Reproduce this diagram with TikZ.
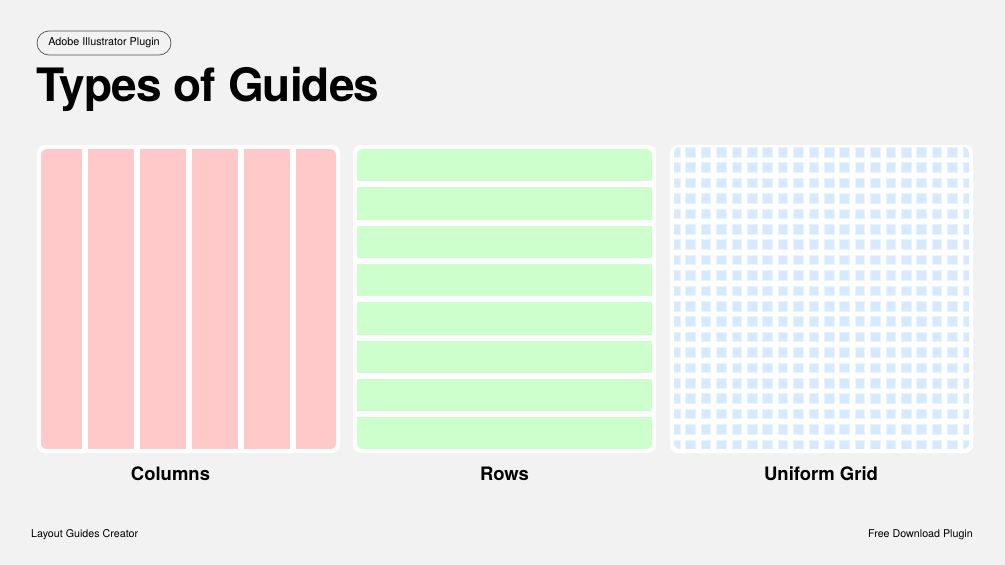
\documentclass[tikz,border=0pt]{standalone}
\usepackage{fontspec}
\setmainfont{TeX Gyre Heros}
\usepackage{xcolor}
\definecolor{bgcol}{HTML}{F2F2F2}
\definecolor{colpink}{HTML}{FFC9C9}
\definecolor{rowgreen}{HTML}{CCFFCC}
\definecolor{gridblue}{HTML}{D6EAFF}

\begin{document}
\begin{tikzpicture}[x=1pt, y=-1pt]
	%background and page size
	\fill[color=bgcol] (0,0) rectangle (1005,565);
	\useasboundingbox (0,0) rectangle (1005,565);
	%
	% Heading
	\node[draw=darkgray!90, line width=0.7pt, rounded corners=12pt, minimum width=134pt, minimum height=24pt, inner sep=0pt, font=\fontsize{10.8}{12}\selectfont] (tag) at (104,43) {Adobe Illustrator Plugin};
	\node[anchor=base west, inner sep=0pt, font=\fontsize{46}{46}\selectfont\bfseries\addfontfeature{LetterSpace=-2}] (title) at (36,101) {Types of Guides};
	%
	%white panels
	\fill[color=white, rounded corners=8pt] (37,145) rectangle (340,453); % columns
	\fill[color=white, rounded corners=8pt] (353,145) rectangle (656,453); % rows
	\fill[color=white, rounded corners=8pt] (670,145) rectangle (973,453); % grid
	%
	% COLUMNS
	\begin{scope}
	\clip[rounded corners=6pt] (41,149) rectangle (336,449);
	\foreach \i in {0,...,5}
		\fill[color=colpink] ({35.5+52*\i},149) rectangle ({81.5+52*\i},449);
	\end{scope}
	%
	% ROWS
	\begin{scope}
	\clip[rounded corners=6pt] (357,149) rectangle (652,449);
	\foreach \j in {0,...,7}
		\fill[color=rowgreen] (357,{149+38.3*\j}) rectangle (652,{181.3+38.3*\j});
	\end{scope}
	%
	% UNIFORM GRID
	\begin{scope}
	\clip[rounded corners=6pt] (674,147) rectangle (969,449);
	\foreach \k in {-1,...,18}
		\foreach \l in {0,...,19}
			\filldraw[fill=gridblue, draw=gridblue!55!white, line width=0.6pt] ({685.7+15.4*\k},{147.2+15.4*\l}) rectangle +(9.6,9.6);
	\end{scope}
	%
	% Text nodes
	\node[anchor=base, inner sep=0pt, font=\fontsize{18.5}{20}\selectfont\bfseries] (cols) at (170.5,480) {Columns};
	\node[anchor=base, inner sep=0pt, font=\fontsize{18.5}{20}\selectfont\bfseries] (rows) at (504.5,480) {Rows};
	\node[anchor=base, inner sep=0pt, font=\fontsize{18.5}{20}\selectfont\bfseries] (grid) at (821,480) {Uniform Grid};
	\node[anchor=base west, inner sep=0pt, font=\fontsize{10.7}{12}\selectfont] (left) at (31,537) {Layout Guides Creator};
	\node[anchor=base east, inner sep=0pt, font=\fontsize{10.7}{12}\selectfont] (right) at (973,537) {Free Download Plugin};
\end{tikzpicture}
\end{document}
